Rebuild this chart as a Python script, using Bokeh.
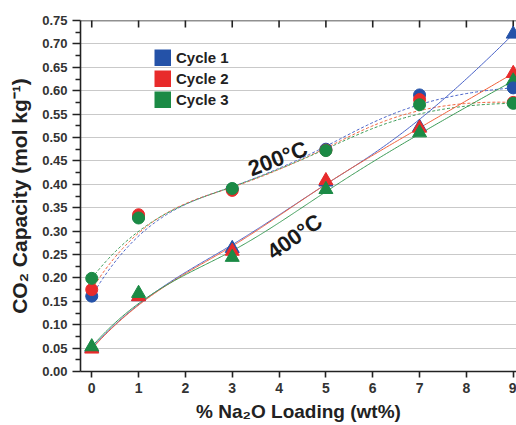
import numpy as np
from bokeh.plotting import figure
from bokeh.models import (Legend, LegendItem, FixedTicker, Range1d, Span,
                          Label, NumeralTickFormatter)
from bokeh.embed import file_html
from bokeh.resources import INLINE

# ---- data ----
loading = [0, 1, 3, 5, 7, 9]
cycles = ["Cycle 1", "Cycle 2", "Cycle 3"]
cap200_cycle1 = [0.161, 0.330, 0.390, 0.475, 0.591, 0.606]
cap200_cycle2 = [0.175, 0.335, 0.387, 0.473, 0.581, 0.575]
cap200_cycle3 = [0.199, 0.328, 0.391, 0.472, 0.570, 0.573]
cap400_cycle1 = [0.050, 0.160, 0.263, 0.405, 0.522, 0.721]
cap400_cycle2 = [0.048, 0.160, 0.257, 0.408, 0.520, 0.637]
cap400_cycle3 = [0.053, 0.167, 0.244, 0.389, 0.510, 0.621]
x_ticks = [0, 1, 2, 3, 4, 5, 6, 7, 8, 9]
y_ticks = [0.00, 0.05, 0.10, 0.15, 0.20, 0.25, 0.30, 0.35, 0.40, 0.45,
           0.50, 0.55, 0.60, 0.65, 0.70, 0.75]
y_minor = [0.025, 0.075, 0.125, 0.175, 0.225, 0.275, 0.325, 0.375, 0.425,
           0.475, 0.525, 0.575, 0.625, 0.675, 0.725]

colors = ["#2452a8", "#e82b2b", "#1b8a45"]
line_colors = ["#4a63c8", "#f0603a", "#3a9a55"]
FONT = "Liberation Sans"


def bspline(px, py, k=3, n=300):
    """Clamped B-spline that uses the data points as control points."""
    px = np.asarray(px, float)
    py = np.asarray(py, float)
    m = len(px)
    inner = np.linspace(0, 1, m - k + 1)[1:-1]
    t = np.concatenate([np.zeros(k + 1), inner, np.ones(k + 1)])
    u = np.linspace(0, 1, n)
    u[-1] = 1 - 1e-12
    # Cox-de Boor
    B = np.zeros((n, len(t) - 1))
    for j in range(len(t) - 1):
        B[:, j] = np.where((t[j] <= u) & (u < t[j + 1]), 1.0, 0.0)
    for d in range(1, k + 1):
        Bn = np.zeros((n, len(t) - 1 - d))
        for j in range(len(t) - 1 - d):
            a = 0.0
            if t[j + d] != t[j]:
                a = (u - t[j]) / (t[j + d] - t[j]) * B[:, j]
            b = 0.0
            if t[j + d + 1] != t[j + 1]:
                b = (t[j + d + 1] - u) / (t[j + d + 1] - t[j + 1]) * B[:, j + 1]
            Bn[:, j] = a + b
        B = Bn
    return B @ px, B @ py


p = figure(width=516, height=425, output_backend="svg", toolbar_location=None,
           x_range=Range1d(-0.24, 9.07), y_range=Range1d(y_ticks[0], y_ticks[-1]),
           min_border_left=80, min_border_top=20, min_border_right=0,
           min_border_bottom=54)
p.outline_line_color = None
p.background_fill_color = "white"
p.extra_y_ranges = {"legend_only": Range1d(100, 101)}

# axes
p.xaxis.ticker = FixedTicker(ticks=x_ticks)
p.yaxis.ticker = FixedTicker(ticks=y_ticks, minor_ticks=y_minor)
p.yaxis.formatter = NumeralTickFormatter(format="0.00")
for ax in (p.xaxis[0], p.yaxis[0]):
    ax.axis_line_color = "#222222"
    ax.axis_line_width = 1.6
    ax.major_tick_line_color = "#222222"
    ax.major_tick_line_width = 1.6
    ax.minor_tick_line_color = "#222222"
    ax.minor_tick_line_width = 1.3
    ax.major_tick_in = 0
    ax.minor_tick_in = 0
    ax.major_label_text_font = FONT
    ax.major_label_text_font_style = "bold"
    ax.major_label_text_color = "#333333"
    ax.axis_label_text_font = FONT
    ax.axis_label_text_font_style = "bold"
    ax.axis_label_text_color = "#222222"
p.xaxis.major_tick_out = 6
p.xaxis.minor_tick_out = 0
p.xaxis.major_label_text_font_size = "14px"
p.xaxis.axis_label = "% Na\u2082O Loading (wt%)"
p.xaxis.axis_label_text_font_size = "19px"
p.xaxis.axis_label_standoff = 5
p.yaxis.major_tick_out = 8
p.yaxis.minor_tick_out = 5
p.yaxis.major_label_text_font_size = "13px"
p.yaxis.axis_label = "CO\u2082 Capacity (mol kg\u207b\u00b9)"
p.yaxis.axis_label_text_font_size = "21px"
p.yaxis.axis_label_standoff = 8

p.xgrid.visible = False
p.ygrid.ticker = FixedTicker(ticks=y_ticks)
p.ygrid.grid_line_color = "#c9c9c9"
p.ygrid.grid_line_width = 1

# top frame line with inward ticks (no labels)
p.add_layout(Span(location=y_ticks[-1], dimension="width", line_color="#222222",
                  line_width=1.6))
p.scatter(x_ticks, [y_ticks[-1]] * len(x_ticks), marker="dash", angle=np.pi / 2,
          size=14, line_color="#222222", line_width=1.6)

# smoothed connecting curves (B-spline through the data as control points)
s200 = [cap200_cycle1, cap200_cycle2, cap200_cycle3]
s400 = [cap400_cycle1, cap400_cycle2, cap400_cycle3]
for i in range(3):
    bx, by = bspline(loading, s200[i])
    p.line(bx, by, line_color=line_colors[i], line_width=1, line_dash="3 2")
for i in range(3):
    bx, by = bspline(loading, s400[i])
    p.line(bx, by, line_color=line_colors[i], line_width=1)

# markers
for i in range(3):
    p.scatter(loading, s400[i], marker="triangle", size=14, color=colors[i])
for i in range(3):
    p.scatter(loading, s200[i], marker="circle", size=12, color=colors[i])

# legend with square swatches (thick short line = square), drawn off-canvas
items = []
for i in range(3):
    r = p.line(loading[:2], s200[i][:2], line_width=17, line_color=colors[i],
               line_cap="butt", y_range_name="legend_only")
    items.append(LegendItem(label=cycles[i], renderers=[r]))
legend = Legend(items=items, location=(74, 263), padding=0, margin=0,
                spacing=4, glyph_width=17, glyph_height=17, label_standoff=5,
                border_line_alpha=0, background_fill_alpha=0,
                label_text_font=FONT, label_text_font_style="bold",
                label_text_font_size="15px", label_text_color="#222222")
p.add_layout(legend, "center")

# annotations
p.add_layout(Label(x=3.97, y=0.455, text="200\u00b0C", angle=np.deg2rad(21),
                   text_align="center", text_baseline="middle",
                   text_font=FONT, text_font_style="bold", text_font_size="22px",
                   text_color="#1a1a1a"))
p.add_layout(Label(x=4.33, y=0.288, text="400\u00b0C", angle=np.deg2rad(35),
                   text_align="center", text_baseline="middle",
                   text_font=FONT, text_font_style="bold", text_font_size="22px",
                   text_color="#1a1a1a"))

open("out.html", "w").write(file_html(p, INLINE))
